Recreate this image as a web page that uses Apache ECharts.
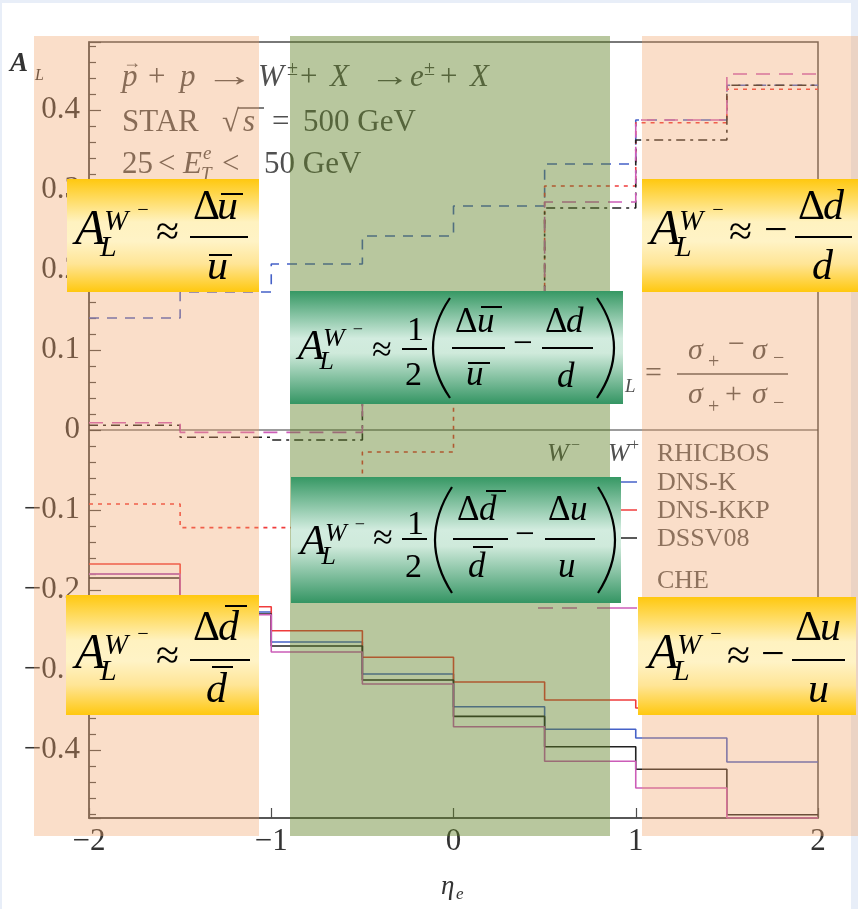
<!DOCTYPE html>
<html><head><meta charset="utf-8">
<script src="https://cdn.jsdelivr.net/npm/echarts@6/dist/echarts.min.js"></script>
<style>
html,body{margin:0;padding:0;background:#E8EEF8;width:858px;height:909px;overflow:hidden;}
#panel{position:absolute;left:2px;top:3px;width:849px;height:906px;background:#fff;}
#c{position:absolute;left:0;top:0;width:858px;height:909px;}
</style></head>
<body><div id="panel"></div><div id="c"></div>
<script>
// ---- data ----
const binEdges = [-2, -1.5, -1, -0.5, 0, 0.5, 1, 1.5, 2];
const xTicks = [-2, -1, 0, 1, 2];
// W- (dashed styles)
const wMinusDNSK   = [0.140, 0.1725, 0.2075, 0.2425, 0.280, 0.3325, 0.3875, 0.431];
const wMinusDNSKKP = [-0.0925, -0.122, -0.122, -0.0275, 0.100, 0.305, 0.384, 0.426];
const wMinusDSSV   = [0.006, -0.009, -0.0125, 0.060, 0.140, 0.2775, 0.3625, 0.431];
const wMinusCHE    = [0.009, -0.003, -0.003, 0.050, 0.130, 0.285, 0.3875, 0.445];
// W+ (solid)
const wPlusDNSK    = [-0.180, -0.2275, -0.265, -0.305, -0.346, -0.374, -0.385, -0.415];
const wPlusDNSKKP  = [-0.1675, -0.221, -0.251, -0.284, -0.315, -0.3375, -0.3475, -0.345];
const wPlusDSSV    = [-0.185, -0.230, -0.270, -0.3125, -0.358, -0.396, -0.424, -0.481];
const wPlusCHE     = [-0.180, -0.231, -0.2775, -0.3175, -0.371, -0.414, -0.4475, -0.485];
const legendNames = ['RHICBOS', 'DNS-K', 'DNS-KKP', 'DSSV08', 'CHE', 'DSSV08'];

const FONT = '"Liberation Serif", "Times New Roman", serif';
const BLUE = '#4662C8', RED = '#F03C3C', BLACK = '#222222', PINK = '#CC5DB8';

function stepData(vals){
  return binEdges.map((e,i)=>[e, vals[Math.min(i, vals.length-1)]]);
}
function minus(s){ return String(s).replace('-', '\u2212'); }

function tx(x, base, text, size, o){
  o = o || {};
  const el = {type:'text', x:x, y: base - 0.3375*size, z: o.z || 70, silent:true,
    style:{text:text, font:(o.it?'italic ':'')+(o.bold?'bold ':'')+size+'px '+FONT,
      fill:o.fill||'#000', align:o.align||'left', verticalAlign:'middle'}};
  if (o.sx) { el.scaleX = o.sx; }
  return el;
}
function sym(x, cy, text, size, o){ return tx(x, cy + 0.25*size, text, size, o); }
function ln(x1,y1,x2,y2,w,c,z,dash){
  return {type:'line', z:z||70, silent:true, shape:{x1,y1,x2,y2},
    style:{stroke:c||'#000', lineWidth:w||2, lineDash:dash||null}};
}
function rc(x,y,w,h,fill,z){
  return {type:'rect', z:z, silent:true, shape:{x,y,width:w,height:h}, style:{fill:fill}};
}
function paren(x1, top, bot, bulge, z){
  return {type:'bezierCurve', z:z||70, silent:true,
    shape:{x1:x1, y1:top, x2:x1, y2:bot, cpx1:x1+bulge, cpy1:(top+bot)/2},
    style:{stroke:'#000', lineWidth:2.2, fill:null}};
}
const yellowGrad = {type:'linear', x:0,y:0,x2:0,y2:1, colorStops:[
  {offset:0,color:'#FFC80F'},{offset:0.38,color:'#FFF2C0'},{offset:0.55,color:'#FFF3C6'},
  {offset:0.75,color:'#FFE596'},{offset:1,color:'#FFC80F'}]};
const greenGrad = {type:'linear', x:0,y:0,x2:0,y2:1, colorStops:[
  {offset:0,color:'#369864'},{offset:0.42,color:'#D2ECDF'},{offset:0.55,color:'#CFEADB'},
  {offset:1,color:'#349563'}]};

const G = [];
const GRAY = '#505050';
// --- annotations inside plot (under overlays) ---
G.push(tx(122, 88, 'p', 31, {it:1, fill:GRAY, z:10}));
G.push(tx(123, 69, '\u2192', 18, {fill:GRAY, z:10}));
G.push(tx(148, 88, '+', 31, {fill:GRAY, z:10}));
G.push(tx(180, 88, 'p', 31, {it:1, fill:GRAY, z:10}));
G.push(tx(205, 88, '\u2192', 31, {fill:GRAY, z:10, sx:1.6}));
G.push(tx(258, 88, 'W', 31, {it:1, fill:GRAY, z:10}));
G.push(tx(287, 76, '\u00B1', 20, {fill:GRAY, z:10}));
G.push(tx(300, 88, '+', 31, {fill:GRAY, z:10}));
G.push(tx(330, 88, 'X', 31, {it:1, fill:GRAY, z:10}));
G.push(tx(370, 88, '\u2192', 31, {fill:GRAY, z:10, sx:1.3}));
G.push(tx(410, 88, 'e', 31, {it:1, fill:GRAY, z:10}));
G.push(tx(424, 76, '\u00B1', 20, {fill:GRAY, z:10}));
G.push(tx(440, 88, '+', 31, {fill:GRAY, z:10}));
G.push(tx(470, 88, 'X', 31, {it:1, fill:GRAY, z:10}));

G.push(tx(122, 133, 'STAR', 31, {fill:GRAY, z:10}));
G.push(tx(222, 133, '\u221A', 31, {fill:GRAY, z:10}));
G.push(ln(238, 108, 264, 108, 1.5, GRAY, 10));
G.push(tx(243, 133, 's', 31, {it:1, fill:GRAY, z:10}));
G.push(tx(272, 133, '=', 31, {fill:GRAY, z:10}));
G.push(tx(303, 133, '500 GeV', 31, {fill:GRAY, z:10}));

G.push(tx(122, 175, '25', 31, {fill:GRAY, z:10}));
G.push(tx(158, 175, '<', 31, {fill:GRAY, z:10}));
G.push(tx(183, 175, 'E', 31, {it:1, fill:GRAY, z:10}));
G.push(tx(201, 181, 'T', 19, {it:1, fill:GRAY, z:10}));
G.push(tx(203, 160, 'e', 19, {it:1, fill:GRAY, z:10}));
G.push(tx(222, 175, '<', 31, {fill:GRAY, z:10}));
G.push(tx(264, 175, '50 GeV', 31, {fill:GRAY, z:10}));

// A_L = (s+ - s-)/(s+ + s-)
G.push(tx(598, 390, 'A', 30, {it:1, fill:GRAY, z:10}));
G.push(tx(625, 393, 'L', 19, {it:1, fill:GRAY, z:10}));
G.push(sym(645, 377, '=', 30, {fill:GRAY, z:10}));
G.push(ln(677, 374, 788, 374, 1.5, GRAY, 10));
G.push(tx(688, 361, '\u03C3', 30, {it:1, fill:GRAY, z:10}));
G.push(tx(708, 369, '+', 20, {fill:GRAY, z:10}));
G.push(sym(728, 348, '\u2212', 30, {fill:GRAY, z:10}));
G.push(tx(752, 361, '\u03C3', 30, {it:1, fill:GRAY, z:10}));
G.push(tx(773, 365, '\u2212', 20, {fill:GRAY, z:10}));
G.push(tx(688, 405, '\u03C3', 30, {it:1, fill:GRAY, z:10}));
G.push(tx(708, 414, '+', 20, {fill:GRAY, z:10}));
G.push(sym(725, 398, '+', 30, {fill:GRAY, z:10}));
G.push(tx(752, 405, '\u03C3', 30, {it:1, fill:GRAY, z:10}));
G.push(tx(773, 410, '\u2212', 20, {fill:GRAY, z:10}));

// legend
G.push(tx(547, 463, 'W', 26, {it:1, fill:GRAY, z:10}));
G.push(tx(571, 451, '\u2212', 16, {fill:GRAY, z:10}));
G.push(tx(608, 463, 'W', 26, {it:1, fill:GRAY, z:10}));
G.push(tx(630, 451, '+', 16, {fill:GRAY, z:10}));
const legBase = [463, 492, 520, 548, 590, 618];
legendNames.forEach((n,i)=>G.push(tx(657, legBase[i], n, 26, {fill:'#5a5a5a', z:10})));
const legCols = [null, BLUE, RED, BLACK, null, PINK];
const legDash = [null, [10,8], [4,5], [9,5,3,5], null, [15,9]];
legCols.forEach((c,i)=>{ if(!c) return; const y = legBase[i]-10;
  G.push(ln(538, y, 580, y, 1.6, c, 10, legDash[i]));
  G.push(ln(597, y, 637, y, 1.6, c, 10));
});

// axis names
G.push(tx(10, 73, 'A', 27, {it:1, bold:1, fill:'#333', z:10}));
G.push(tx(35, 81, 'L', 16, {it:1, fill:'#333', z:10}));
G.push(tx(441, 896, '\u03B7', 27, {it:1, fill:'#333', z:10}));
G.push(tx(456, 900, 'e', 17, {it:1, fill:'#333', z:10}));

// --- translucent overlays ---
const OR = 'rgba(242,160,100,0.35)';
G.push(rc(34, 36, 225, 800, OR, 50));
G.push(rc(642, 36, 216, 800, OR, 50));
G.push(rc(290, 36, 320, 800, 'rgba(94,128,35,0.44)', 50));

// --- yellow boxes ---
G.push(rc(67, 179, 192, 113, yellowGrad, 60));
G.push(rc(642, 179, 216, 113, yellowGrad, 60));
G.push(rc(66, 595, 193, 120, yellowGrad, 60));
G.push(rc(638, 597, 218, 118, yellowGrad, 60));
// --- green boxes ---
G.push(rc(290, 291, 333, 113, greenGrad, 60));
G.push(rc(291, 477, 330, 126, greenGrad, 60));

function AL(x, base, size, supSize){
  // A_L^{W-}
  const out = [];
  out.push(tx(x, base, 'A', size, {it:1}));
  out.push(tx(x + size*0.5, base + size*0.2, 'L', size*0.6, {it:1}));
  out.push(tx(x + size*0.58, base - size*0.32, 'W', supSize, {it:1}));
  out.push(tx(x + size*0.58 + supSize*1.15, base - size*0.6, '\u2212', supSize*0.7));
  return out;
}
// box 1 (top-left)
G.push(...AL(75, 248, 50, 29));
G.push(sym(156, 238, '\u2248', 42));
G.push(tx(193, 222, '\u0394', 42)); G.push(tx(217, 222, 'u', 42, {it:1}));
G.push(ln(221, 194, 243, 194, 2));
G.push(ln(190, 237, 248, 237, 2));
G.push(tx(207, 282, 'u', 42, {it:1})); G.push(ln(209, 255, 232, 255, 2));
// box 2 (top-right)
G.push(...AL(650, 248, 50, 29));
G.push(sym(729, 238, '\u2248', 42));
G.push(sym(764, 236, '\u2212', 42));
G.push(ln(795, 237, 852, 237, 2));
G.push(tx(798, 222, '\u0394', 42)); G.push(tx(823, 222, 'd', 42, {it:1}));
G.push(tx(812, 282, 'd', 42, {it:1}));
// box 3 (bottom-left)
G.push(...AL(75, 672, 50, 29));
G.push(sym(156, 662, '\u2248', 42));
G.push(tx(193, 643, '\u0394', 42)); G.push(tx(218, 643, 'd', 42, {it:1}));
G.push(ln(225, 606, 247, 606, 2));
G.push(ln(190, 660, 250, 660, 2));
G.push(tx(206, 705, 'd', 42, {it:1})); G.push(ln(212, 667, 233, 667, 2));
// box 4 (bottom-right)
G.push(...AL(648, 672, 50, 29));
G.push(sym(727, 662, '\u2248', 42));
G.push(sym(761, 660, '\u2212', 42));
G.push(ln(792, 660, 845, 660, 2));
G.push(tx(795, 643, '\u0394', 42)); G.push(tx(820, 643, 'u', 42, {it:1}));
G.push(tx(808, 705, 'u', 42, {it:1}));
// green box 1
G.push(...AL(298, 362, 43, 26));
G.push(sym(372, 355, '\u2248', 36));
G.push(tx(407, 343, '1', 34)); G.push(ln(402, 349, 427, 349, 2)); G.push(tx(405, 388, '2', 34));
G.push(paren(450, 298, 398, -34));
G.push(tx(455, 335, '\u0394', 35)); G.push(tx(477, 335, 'u', 35, {it:1}));
G.push(ln(481, 307, 502, 307, 2));
G.push(ln(452, 348, 505, 348, 2));
G.push(tx(466, 388, 'u', 35, {it:1})); G.push(ln(468, 363, 490, 363, 2));
G.push(sym(513, 348, '\u2212', 35));
G.push(tx(545, 335, '\u0394', 35)); G.push(tx(566, 335, 'd', 35, {it:1}));
G.push(ln(542, 348, 593, 348, 2));
G.push(tx(557, 390, 'd', 35, {it:1}));
G.push(paren(597, 298, 398, 34));
// green box 2
G.push(...AL(300, 557, 43, 26));
G.push(sym(373, 543, '\u2248', 36));
G.push(tx(407, 537, '1', 34)); G.push(ln(402, 539, 427, 539, 2)); G.push(tx(405, 580, '2', 34));
G.push(paren(452, 487, 593, -34));
G.push(tx(457, 523, '\u0394', 35)); G.push(tx(479, 523, 'd', 35, {it:1}));
G.push(ln(486, 491, 506, 491, 2));
G.push(ln(453, 539, 508, 539, 2));
G.push(tx(468, 580, 'd', 35, {it:1})); G.push(ln(473, 547, 493, 547, 2));
G.push(sym(515, 539, '\u2212', 35));
G.push(tx(548, 523, '\u0394', 35)); G.push(tx(570, 523, 'u', 35, {it:1}));
G.push(ln(545, 539, 595, 539, 2));
G.push(tx(558, 580, 'u', 35, {it:1}));
G.push(paren(598, 487, 593, 34));

function series(name, vals, color, dash, w){
  return {name, type:'line', step:'end', data: stepData(vals), showSymbol:false, symbol:'none',
    lineStyle:{color, width:w||1.6, type: dash || 'solid'}, itemStyle:{color}, silent:true, z:3};
}

const chart = echarts.init(document.getElementById('c'), null, {renderer:'canvas', width:858, height:909});
chart.setOption({
  animation:false,
  backgroundColor:'transparent',
  grid:{left:89, top:42, width:729, height:776, show:true, borderColor:'#4d4d4d', borderWidth:1.5, backgroundColor:'transparent'},
  xAxis:{type:'value', min:-2, max:2, interval:1,
    axisLine:{show:true, onZero:false, lineStyle:{color:'#4d4d4d', width:1.5}},
    axisTick:{show:true, inside:true, length:10, lineStyle:{color:'#4d4d4d', width:1.2}},
    splitLine:{show:false},
    axisLabel:{margin:8, fontFamily:FONT, fontSize:31, color:'#333',
      formatter:v=> xTicks.includes(v) ? minus(v) : ''}},
  yAxis:{type:'value', min:-0.485, max:0.485, splitNumber:10,
    axisLine:{show:true, onZero:false, lineStyle:{color:'#4d4d4d', width:1.5}},
    axisTick:{show:true, inside:true, length:12, lineStyle:{color:'#4d4d4d', width:1.2}},
    minorTick:{show:true, splitNumber:5, length:7, lineStyle:{color:'#4d4d4d', width:1.2}},
    splitLine:{show:false},
    axisLabel:{margin:9, fontFamily:FONT, fontSize:31, color:'#333', showMinLabel:false, showMaxLabel:false,
      formatter:v=>{ const r = Math.round(v*10); if (Math.abs(v*10-r) > 1e-6) return ''; return r===0 ? '0' : minus((r/10).toFixed(1)); }}},
  series:[
    Object.assign(series('zero', [0,0,0,0,0,0,0,0], '#3a3a3a', 'solid', 1.2), {z:2}),
    series('W- DNS-K', wMinusDNSK, BLUE, [10,8]),
    series('W- DNS-KKP', wMinusDNSKKP, RED, [4,5]),
    series('W- DSSV08', wMinusDSSV, BLACK, [9,5,3,5]),
    series('W- CHE', wMinusCHE, PINK, [14,9]),
    series('W+ DNS-K', wPlusDNSK, BLUE),
    series('W+ DNS-KKP', wPlusDNSKKP, RED),
    series('W+ DSSV08', wPlusDSSV, BLACK),
    series('W+ CHE', wPlusCHE, PINK)
  ],
  graphic: G
});
</script></body></html>
